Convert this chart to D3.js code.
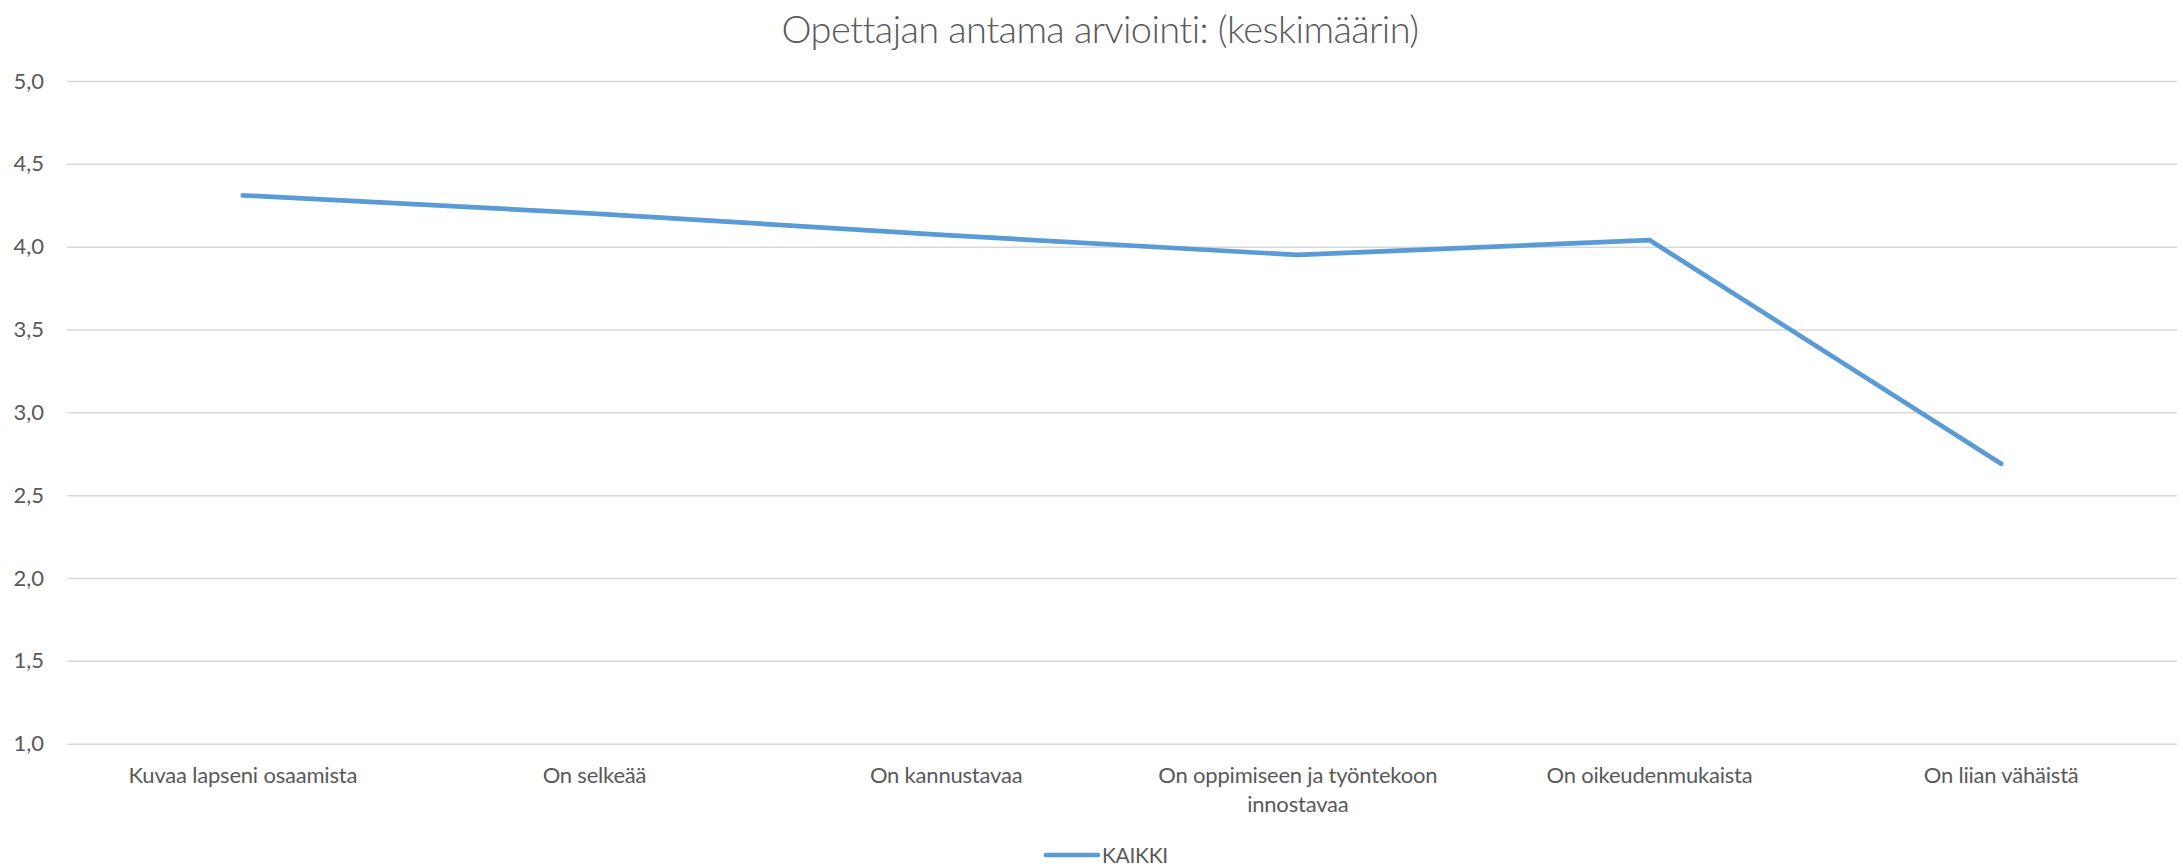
<!DOCTYPE html>
<html>
<head>
<meta charset="utf-8">
<script src="https://cdn.jsdelivr.net/npm/d3@7"></script>
<style>
  html, body { margin: 0; padding: 0; background: #fff; }
  svg { display: block; }
  text { font-family: Lato, "Open Sans", sans-serif; fill: #595959; }
</style>
</head>
<body>
<svg id="chart" width="2183" height="868"></svg>
<script>
const titleText = "Opettajan antama arviointi: (keskimäärin)";
const categories = [
  ["Kuvaa lapseni osaamista"],
  ["On selkeää"],
  ["On kannustavaa"],
  ["On oppimiseen ja työntekoon", "innostavaa"],
  ["On oikeudenmukaista"],
  ["On liian vähäistä"]
];
const seriesName = "KAIKKI";
const values = [4.31, 4.20, 4.07, 3.95, 4.04, 2.69];
const yTicks = [1.0, 1.5, 2.0, 2.5, 3.0, 3.5, 4.0, 4.5, 5.0];

const svg = d3.select("#chart");
const plot = { left: 67, right: 2177, top: 81, bottom: 743.7 };

const x = d3.scaleBand()
  .domain(d3.range(categories.length))
  .range([plot.left, plot.right]);
const y = d3.scaleLinear().domain([1, 5]).range([plot.bottom, plot.top]);

// Title
svg.append("text")
  .attr("x", 1100).attr("y", 43)
  .attr("text-anchor", "middle")
  .style("font-size", "38px")
  .style("letter-spacing", "-0.6px")
  .style("font-weight", 300)
  .text(titleText);

// gridlines
const grid = svg.append("g").attr("transform", `translate(${plot.left},0)`)
  .call(d3.axisLeft(y).tickValues(yTicks).tickSize(-(plot.right - plot.left)).tickFormat(""));
grid.select(".domain").remove();
grid.selectAll("line").attr("stroke", "#d9d9d9").attr("stroke-width", 1.5);

// y labels
const yAxis = svg.append("g").attr("transform", `translate(44,0)`)
  .call(d3.axisLeft(y).tickValues(yTicks).tickSize(0).tickPadding(0)
    .tickFormat(d => d3.format(".1f")(d).replace(".", ",")));
yAxis.select(".domain").remove();
yAxis.selectAll("text")
  .attr("fill", "#595959")
  .style("font-size", "22px")
  .style("font-family", "Lato, 'Open Sans', sans-serif");

// x labels
const xAxis = svg.append("g").attr("transform", `translate(0,${plot.bottom})`)
  .call(d3.axisBottom(x).tickSize(0).tickFormat(""));
xAxis.select(".domain").remove();
xAxis.selectAll(".tick").each(function(d) {
  const t = d3.select(this).append("text")
    .attr("text-anchor", "middle")
    .attr("fill", "#595959")
    .style("font-size", "22px")
    .style("letter-spacing", "-0.2px");
  categories[d].forEach((line, i) => {
    t.append("tspan").attr("x", 0).attr("y", 39 + i * 29).text(line);
  });
});

// line
const lineGen = d3.line()
  .x((d, i) => x(i) + x.bandwidth() / 2)
  .y(d => y(d));
svg.append("path")
  .datum(values)
  .attr("fill", "none")
  .attr("stroke", "#5b9bd5")
  .attr("stroke-width", 4.7)
  .attr("stroke-linejoin", "round")
  .attr("stroke-linecap", "round")
  .attr("d", lineGen);

// legend
const lg = svg.append("g");
lg.append("line")
  .attr("x1", 1046).attr("x2", 1098).attr("y1", 855).attr("y2", 855)
  .attr("stroke", "#5b9bd5").attr("stroke-width", 4.7).attr("stroke-linecap", "round");
lg.append("text").attr("x", 1102).attr("y", 863)
  .style("font-size", "21px").style("letter-spacing", "-0.3px").text(seriesName);
</script>
</body>
</html>
